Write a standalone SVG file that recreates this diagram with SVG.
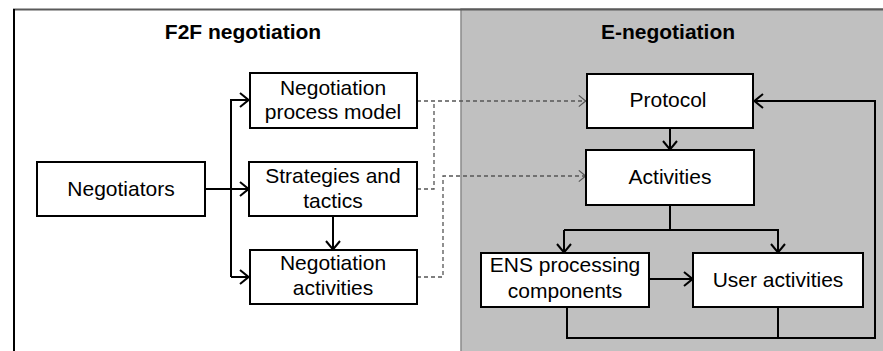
<svg xmlns="http://www.w3.org/2000/svg" width="883" height="351" viewBox="0 0 883 351">
<defs>
<style>
.box{fill:#fff;stroke:#000;stroke-width:2}
.t{font-family:"Liberation Sans",Arial,sans-serif;font-size:21px;fill:#000;text-anchor:middle}
.h{font-family:"Liberation Sans",Arial,sans-serif;font-size:21px;font-weight:bold;fill:#000;text-anchor:middle}
.c{fill:none;stroke:#000;stroke-width:2}
.d{fill:none;stroke:#555;stroke-width:1.3;stroke-dasharray:4,3}
</style>
<marker id="a" viewBox="0 0 10 16" refX="10" refY="8" markerWidth="10" markerHeight="16" markerUnits="userSpaceOnUse" orient="auto">
<path d="M1,1 L9.5,8 L1,15" fill="none" stroke="#000" stroke-width="2"/>
</marker>
<marker id="ad" viewBox="0 0 10 16" refX="10" refY="8" markerWidth="8" markerHeight="13" markerUnits="userSpaceOnUse" orient="auto">
<path d="M1,1 L9.5,8 L1,15" fill="none" stroke="#555" stroke-width="1.5"/>
</marker>
</defs>
<rect x="0" y="0" width="883" height="351" fill="#fff"/>
<g id="panels">
<rect x="461" y="9" width="423" height="343" fill="#c0c0c0" stroke="#8a8a8a" stroke-width="1.5"/>
<line x1="13" y1="9.5" x2="883" y2="9.5" stroke="#5a5a5a" stroke-width="2"/>
<line x1="14" y1="9" x2="14" y2="351" stroke="#000" stroke-width="2"/>
<text class="h" x="243" y="39">F2F negotiation</text>
<text class="h" x="668" y="39">E-negotiation</text>
</g>
<g id="connectors">
<path class="c" d="M205,189 H249" marker-end="url(#a)"/>
<path class="c" d="M231,277 V100 H249" marker-end="url(#a)"/>
<path class="c" d="M231,277 H249" marker-end="url(#a)"/>
<path class="c" d="M333,216 V250" marker-end="url(#a)"/>
<path class="d" d="M417,101 H586" marker-end="url(#ad)"/>
<path class="d" d="M417,189 H434 V101"/>
<path class="d" d="M417,277 H443 V176 H586" marker-end="url(#ad)"/>
<path class="c" d="M670,128 V150" marker-end="url(#a)"/>
<path class="c" d="M670,205 V230"/>
<path class="c" d="M564,230 V253" marker-end="url(#a)"/>
<path class="c" d="M564,230 H778 V253" marker-end="url(#a)"/>
<path class="c" d="M649,279 H693" marker-end="url(#a)"/>
<path class="c" d="M567,307 V338 H875 V101 H754" marker-end="url(#a)"/>
<path class="c" d="M778,307 V338"/>
</g>
<g id="negotiators">
<rect class="box" x="37" y="162" width="168" height="54"/>
<text class="t" x="121" y="196">Negotiators</text>
</g>
<g id="process-model">
<rect class="box" x="250" y="73" width="167" height="55"/>
<text class="t" x="333" y="95">Negotiation</text>
<text class="t" x="333" y="119">process model</text>
</g>
<g id="strategies">
<rect class="box" x="249" y="162" width="168" height="54"/>
<text class="t" x="333" y="183">Strategies and</text>
<text class="t" x="333" y="208">tactics</text>
</g>
<g id="neg-activities">
<rect class="box" x="250" y="250" width="167" height="54"/>
<text class="t" x="333" y="270">Negotiation</text>
<text class="t" x="333" y="295">activities</text>
</g>
<g id="protocol">
<rect class="box" x="587" y="74" width="166" height="54"/>
<text class="t" x="668" y="107">Protocol</text>
</g>
<g id="activities">
<rect class="box" x="586" y="150" width="168" height="55"/>
<text class="t" x="670" y="184">Activities</text>
</g>
<g id="ens">
<rect class="box" x="481" y="253" width="168" height="54"/>
<text class="t" x="565" y="272">ENS processing</text>
<text class="t" x="565" y="298">components</text>
</g>
<g id="user-activities">
<rect class="box" x="693" y="253" width="170" height="54"/>
<text class="t" x="778" y="287">User activities</text>
</g>
</svg>
